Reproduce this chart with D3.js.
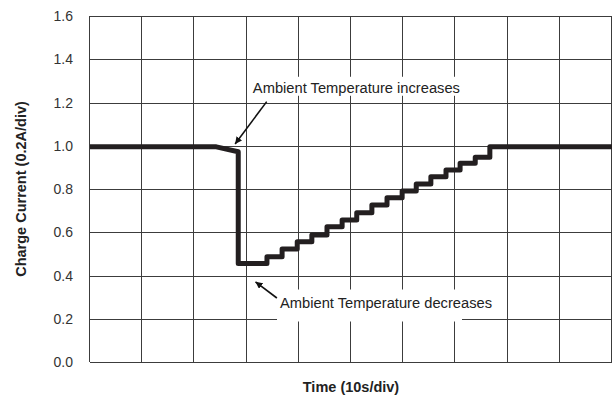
<!DOCTYPE html>
<html>
<head>
<meta charset="utf-8">
<script src="https://cdn.jsdelivr.net/npm/d3@7"></script>
<style>
  html, body { margin: 0; padding: 0; background: #fff; }
  svg { display: block; font-family: "Liberation Sans", Arial, sans-serif; }
</style>
</head>
<body>
<svg id="chart" width="613" height="396"></svg>
<script>
// ticks / grid
const yTicks = [0.0, 0.2, 0.4, 0.6, 0.8, 1.0, 1.2, 1.4, 1.6];
const xGrid = [0, 10, 20, 30, 40, 50, 60, 70, 80, 90, 100];   // seconds, 10 s/div

// before the drop: flat, then slight sag
const leadTimes = [0, 24.2, 28.4];
const leadValues = [0.995, 0.995, 0.972];

// after the drop: staircase back up to 1.0
const stepTimes = [28.4, 33.9, 36.8, 39.7, 42.5, 45.4, 48.3, 51.1, 54.0, 56.9, 59.8, 62.5, 65.3, 68.2, 70.9, 73.8, 76.6];
const stepValues = [0.456, 0.487, 0.523, 0.556, 0.587, 0.626, 0.657, 0.690, 0.726, 0.760, 0.791, 0.823, 0.857, 0.888, 0.919, 0.947, 0.995];
const endTime = 100;

const notes = [
    {text: "Ambient Temperature increases", tx: 31.2, ty: 1.245, from: [33.85, 1.204], to: [27.8, 1.008], boxW: 216, boxUp: 16, boxDown: 3},
    {text: "Ambient Temperature decreases", tx: 36.4, ty: 0.252, from: [35.8, 0.296], to: [31.7, 0.371], boxW: 185, boxUp: 18, boxDown: 14}
];

let margin = {top: 16, right: 1, bottom: 34, left: 90};
let svg = d3.select("#chart");
let width = +svg.attr("width"), height = +svg.attr("height");

let x = d3.scaleLinear().domain([0, 100]).range([margin.left, width - margin.right]);
let y = d3.scaleLinear().domain([0, 1.6]).range([height - margin.bottom, margin.top]);

let gridColor = "#3c3c3c";

// grid
svg.append("g").selectAll("line.h")
    .data(yTicks).enter().append("line")
    .attr("x1", x(0)).attr("x2", x(100))
    .attr("y1", d => Math.round(y(d)) + 0.5).attr("y2", d => Math.round(y(d)) + 0.5)
    .attr("stroke", gridColor).attr("stroke-width", 1);

svg.append("g").selectAll("line.v")
    .data(xGrid).enter().append("line")
    .attr("x1", d => Math.round(x(d)) - 0.5).attr("x2", d => Math.round(x(d)) - 0.5)
    .attr("y1", y(0)).attr("y2", y(1.6))
    .attr("stroke", gridColor).attr("stroke-width", 1);

// y tick labels
svg.append("g").selectAll("text")
    .data(yTicks).enter().append("text")
    .attr("x", margin.left - 17)
    .attr("y", d => y(d))
    .attr("dy", "0.36em")
    .attr("text-anchor", "end")
    .attr("font-size", 14)
    .attr("fill", "#333")
    .text(d => d.toFixed(1));

// axis titles
svg.append("text")
    .attr("transform", `translate(25.5,${(y(0) + y(1.6)) / 2}) rotate(-90)`)
    .attr("text-anchor", "middle")
    .attr("font-size", 14.5)
    .attr("font-weight", "bold")
    .attr("fill", "#222")
    .text("Charge Current (0.2A/div)");

svg.append("text")
    .attr("x", (x(0) + x(100)) / 2)
    .attr("y", 392)
    .attr("text-anchor", "middle")
    .attr("font-size", 14.5)
    .attr("font-weight", "bold")
    .attr("fill", "#222")
    .text("Time (10s/div)");

// trace points
let pts = [];
for (let i = 0; i < leadTimes.length; i++) pts.push([leadTimes[i], leadValues[i]]);
for (let i = 0; i < stepTimes.length; i++) {
    let prev = i === 0 ? leadValues[leadValues.length - 1] : stepValues[i - 1];
    pts.push([stepTimes[i], prev]);
    pts.push([stepTimes[i], stepValues[i]]);
}
pts.push([endTime, stepValues[stepValues.length - 1]]);

let line = d3.line().x(d => x(d[0])).y(d => y(d[1]));

svg.append("path")
    .datum(pts)
    .attr("d", line)
    .attr("fill", "none")
    .attr("stroke", "#231f20")
    .attr("stroke-width", 5)
    .attr("stroke-linejoin", "round");

// annotations
let defs = svg.append("defs");
defs.append("marker")
    .attr("id", "head")
    .attr("viewBox", "0 0 10 10")
    .attr("refX", 10).attr("refY", 5)
    .attr("markerWidth", 7).attr("markerHeight", 7)
    .attr("markerUnits", "userSpaceOnUse")
    .attr("orient", "auto")
    .append("path").attr("d", "M0,0L10,5L0,10z").attr("fill", "#111");

let ann = svg.append("g");
for (let n of notes) {
    ann.append("rect")
        .attr("x", x(n.tx) - 3)
        .attr("y", y(n.ty) - n.boxUp)
        .attr("width", n.boxW)
        .attr("height", n.boxUp + n.boxDown)
        .attr("fill", "#fff");
    ann.append("text")
        .attr("x", x(n.tx))
        .attr("y", y(n.ty))
        .attr("font-size", 14.7)
        .attr("fill", "#222")
        .text(n.text);
    ann.append("line")
        .attr("x1", x(n.from[0])).attr("y1", y(n.from[1]))
        .attr("x2", x(n.to[0])).attr("y2", y(n.to[1]))
        .attr("stroke", "#111")
        .attr("stroke-width", 1.6)
        .attr("marker-end", "url(#head)");
}
</script>
</body>
</html>
